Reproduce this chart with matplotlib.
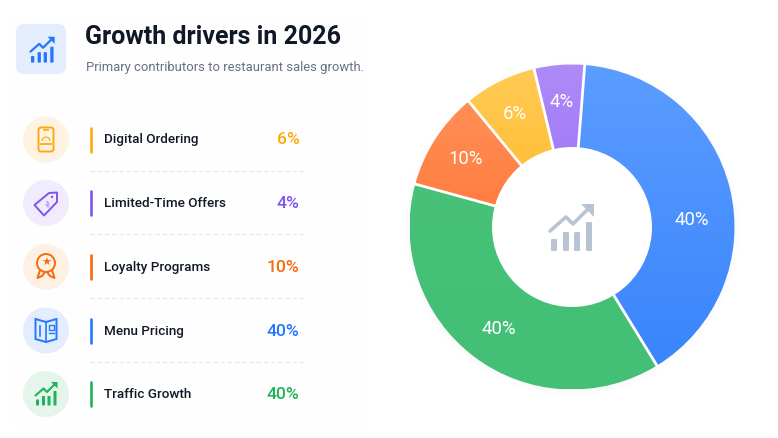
import numpy as np
import matplotlib
matplotlib.use("Agg")
import matplotlib.pyplot as plt
from matplotlib.patches import Circle, FancyBboxPatch, Polygon, Rectangle, Wedge

plt.rcParams["font.family"] = ["Roboto", "DejaVu Sans"]

# Data
labels = ["Digital Ordering", "Limited-Time Offers", "Loyalty Programs", "Menu Pricing", "Traffic Growth"]
values = [6, 4, 10, 40, 40]
colors = ["#FFA90F", "#8054F2", "#F9690E", "#2478FF", "#1FB45A"]
tints = ["#FEF2E3", "#F0EBFD", "#FEF0E3", "#E4EDFD", "#E6F5EC"]

# Slices clockwise from the top, shares as they are drawn in the picture
slice_names = ["Menu Pricing", "Traffic Growth", "Loyalty Programs", "Digital Ordering", "Limited-Time Offers"]
slice_shares = [40, 38, 9.8, 7.2, 5]
slice_tops = ["#5B9CFF", "#47C278", "#FF8F55", "#FFCB55", "#AE8BF9"]
slice_bottoms = ["#3A85FD", "#43C076", "#FF7A3D", "#FFB92A", "#9A70F5"]

title = "Growth drivers in 2026"
subtitle = "Primary contributors to restaurant sales growth."
ink = "#101828"

W, H = 778, 438
fig = plt.figure(figsize=(W / 100, H / 100), dpi=100, facecolor="white")
ax = fig.add_axes([0, 0, 1, 1])
ax.set_xlim(0, W)
ax.set_ylim(H, 0)
ax.axis("off")


def chart_icon(x, y, s, color, lw=2.6):
    # bars with a rising arrow, drawn at scale s around x, y
    for dx, top in zip([-17, -5, 6, 18], [10, 3, 3, -7]):
        ax.add_patch(FancyBboxPatch((x + (dx - 3) * s, y + top * s), 6 * s, (22 - top) * s,
                                    boxstyle="round,pad=0,rounding_size=%g" % (1.2 * s),
                                    fc=color, ec="none", zorder=6))
    ax.plot([x - 21 * s, x - 5 * s, x + 2 * s, x + 19 * s],
            [y + 2 * s, y - 12 * s, y - 5 * s, y - 22 * s],
            color=color, lw=lw, solid_capstyle="round", zorder=6)
    ax.add_patch(Polygon([[x + 23 * s, y - 25 * s], [x + 10 * s, y - 25 * s], [x + 23 * s, y - 12 * s]],
                         fc=color, ec="none", zorder=6))


# Faint panel behind the left column
ax.add_patch(FancyBboxPatch((12, 15), 356, 415, boxstyle="round,pad=0,rounding_size=12", fc="#FEFEFE", ec="none"))

# Header
ax.add_patch(FancyBboxPatch((16, 24), 50, 50, boxstyle="round,pad=0,rounding_size=8", fc="#E4EDFE", ec="none"))
chart_icon(42, 50.5, 0.55, "#2478FF", lw=1.6)
ax.text(85.5, 37.5, title, fontsize=18, fontweight="bold", color=ink, va="center", ha="left")
ax.text(86, 67.5, subtitle, fontsize=9.35, color="#667085", va="center", ha="left")

# Rows
rows_y = [140, 203.5, 267.5, 331, 394.5]
for i, (label, value, color, tint, y) in enumerate(zip(labels, values, colors, tints, rows_y)):
    ax.add_patch(Circle((46, y - 0.5), 23, fc=tint, ec="none"))
    ax.plot([91.3, 91.3], [y - 12.5, y + 11.5], color=color, lw=1.9, solid_capstyle="round")
    ax.text(104, y, label, fontsize=9.7, fontweight="medium", color=ink, va="center", ha="left")
    ax.text(299.5, y, f"{value}%", fontsize=12.6, fontweight="medium", color=color, va="center", ha="right")
    if i < 4:
        ax.plot([90, 307], [y + 30.5, y + 30.5], color="#E5E7EB", lw=0.8, ls=(0, (4, 2.5)))

# Row icons
c = colors[0]
ax.add_patch(FancyBboxPatch((38.5, 127.5), 15, 24, boxstyle="round,pad=0,rounding_size=2.5", fc="none", ec=c, lw=1.4))
ax.add_patch(Wedge((46, 141), 4.5, 180, 360, width=1.2, fc=c, ec="none"))
ax.plot([41, 51], [143.5, 143.5], color=c, lw=1.3)
ax.plot([44, 48], [130, 130], color=c, lw=1.2)

c = colors[1]
ax.add_patch(Polygon([[34.5, 205], [49, 193], [57, 192.5], [57, 202], [44, 215.5]], closed=True, fc="none", ec=c, lw=1.4, joinstyle="round"))
ax.text(46, 204.5, "%", fontsize=6, color=c, ha="center", va="center", rotation=-40)
ax.add_patch(Circle((52, 197), 1.2, fc=c, ec="none"))

c = colors[2]
ax.add_patch(Circle((46, 263), 9, fc="none", ec=c, lw=1.4))
ax.text(46, 263, "★", fontsize=8, color=c, ha="center", va="center", family="DejaVu Sans")
ax.plot([40, 37.5, 42, 45], [270, 278, 276, 272], color=c, lw=1.4)
ax.plot([52, 54.5, 50, 47], [270, 278, 276, 272], color=c, lw=1.4)

c = colors[3]
ax.add_patch(Polygon([[35.5, 319], [46, 322], [56.5, 319], [56.5, 339], [46, 342], [35.5, 339]], closed=True, fc="none", ec=c, lw=1.4))
ax.plot([46, 46], [322, 342], color=c, lw=1.2)
ax.plot([40.5, 40.5], [326, 336], color=c, lw=1.2)
ax.add_patch(Rectangle((49, 325), 5, 5, fc="none", ec=c, lw=1))
ax.plot([49, 54], [333, 333], color=c, lw=1)

chart_icon(46, 394.5, 0.5, colors[4], lw=1.5)

# Soft shadow under the donut
for grow, alpha in zip([6, 3], [0.005, 0.008]):
    ax.add_patch(Circle((572, 229), 162.5 + grow, fc="#1D2939", ec="none", alpha=alpha))

# Donut
cx, cy, r_out, r_in = 572, 227, 162.5, 80
ring = fig.add_axes([(cx - r_out) / W, 1 - (cy + r_out) / H, 2 * r_out / W, 2 * r_out / H])
wedges, _ = ring.pie(slice_shares, colors=slice_bottoms, startangle=85.5, counterclock=False, radius=1,
                     wedgeprops=dict(edgecolor="none"), normalize=True)
ring.set_xlim(-1, 1)
ring.set_ylim(-1, 1)
ring.axis("off")
for wedge, top, bottom in zip(wedges, slice_tops, slice_bottoms):
    # vertical colour fade inside each slice
    ymin, ymax = wedge.get_path().transformed(wedge.get_patch_transform()).get_extents().intervaly
    fade = np.linspace(0, 1, 64)[:, None, None]
    rgb = (1 - fade) * np.array(matplotlib.colors.to_rgb(top)) + fade * np.array(matplotlib.colors.to_rgb(bottom))
    im = ring.imshow(rgb, extent=(-1, 1, ymin, ymax), origin="upper", aspect="auto", zorder=1)
    im.set_clip_path(wedge)
    wedge.set_visible(False)
ring.set_xlim(-1, 1)
ring.set_ylim(-1, 1)

# White gaps between the slices
angle = 85.5
for share in slice_shares:
    a = np.deg2rad(angle)
    ring.plot([0, 1.02 * np.cos(a)], [0, 1.02 * np.sin(a)], color="white", lw=2, zorder=2)
    angle -= share * 3.6
ring.add_patch(Circle((0, 0), r_in / r_out, fc="white", ec="none", zorder=3))

label_pos = [(692, 220), (499, 329), (466, 159), (515, 114), (562, 102)]
for name, (x, y) in zip(slice_names, label_pos):
    value = values[labels.index(name)]
    ring.annotate(f"{value}%", xy=(x / W, 1 - y / H), xycoords="figure fraction", fontsize=13.4, color="white",
                  ha="center", va="center", zorder=5)

# Centre icon goes on its own overlay above the ring
top = fig.add_axes([0, 0, 1, 1], facecolor="none")
top.set_xlim(0, W)
top.set_ylim(H, 0)
top.axis("off")
ax = top
chart_icon(571, 229, 1, "#B8C4D4")

fig.savefig("out.png", dpi=100)
